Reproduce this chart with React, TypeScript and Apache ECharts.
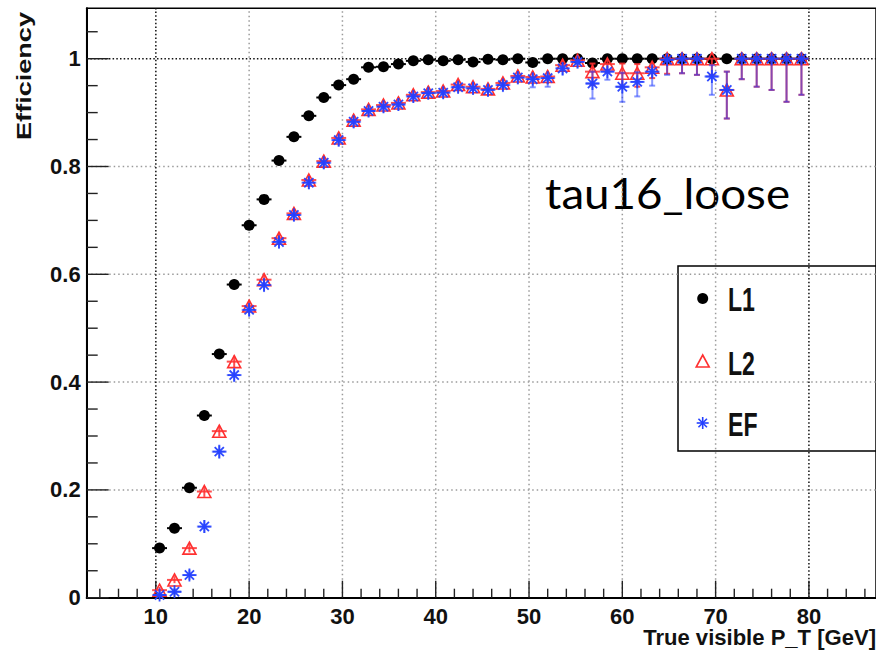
import React, { useEffect, useRef } from 'react';
import * as echarts from 'echarts';

// ---------- data ----------
const BIN_CENTERS = [10.4, 12.0, 13.6, 15.2, 16.8, 18.4, 20.0, 21.6, 23.2, 24.8, 26.4, 28.0, 29.6, 31.2, 32.8, 34.4, 36.0, 37.6, 39.2, 40.8, 42.4, 44.0, 45.6, 47.2, 48.8, 50.4, 52.0, 53.6, 55.2, 56.8, 58.4, 60.0, 61.6, 63.2, 64.8, 66.4, 68.0, 69.6, 71.2, 72.8, 74.4, 76.0, 77.6, 79.2];
const HALF_BIN = 0.8;

const L1 = [0.092, 0.129, 0.204, 0.338, 0.452, 0.581, 0.691, 0.739, 0.811, 0.855,
  0.894, 0.928, 0.951, 0.962, 0.984, 0.985, 0.990, 0.996, 0.998, 0.996,
  0.998, 0.994, 0.999, 0.998, 1.0, 0.993, 1.0, 1.0, 1.0, 0.992,
  1, 1, 1, 1, 1, 1, 1, 1, 1, 1, 1, 1, 1, 1];
const L1_ERR_LO = [0.007, 0.008, 0.009, 0.009, 0.009, 0.009, 0.009, 0.008, 0.008, 0.007,
  0.006, 0.006, 0.005, 0.005, 0.004, 0.004, 0.003, 0.003, 0.002, 0.003,
  0.002, 0.003, 0.002, 0.002, 0.002, 0.004, 0.002, 0.002, 0.002, 0.005,
  0.003, 0.003, 0.004, 0.004, 0.005, 0.005, 0.006, 0.006, 0.008, 0.008, 0.009, 0.009, 0.009, 0.009];
const L1_ERR_HI = [0.008, 0.008, 0.009, 0.009, 0.009, 0.009, 0.009, 0.008, 0.008, 0.007,
  0.006, 0.006, 0.005, 0.005, 0.004, 0.004, 0.003, 0.002, 0.002, 0.002,
  0.002, 0.002, 0.001, 0.002, 0, 0.003, 0, 0, 0, 0.004,
  0, 0, 0, 0, 0, 0, 0, 0, 0, 0, 0, 0, 0, 0];

const L2 = [0.014, 0.033, 0.092, 0.197, 0.309, 0.438, 0.541, 0.590, 0.667, 0.713,
  0.775, 0.810, 0.853, 0.886, 0.906, 0.914, 0.918, 0.933, 0.938, 0.940,
  0.952, 0.948, 0.944, 0.955, 0.968, 0.966, 0.967, 0.988, 0.997, 0.976,
  0.990, 0.973, 0.973, 0.984, 1, 1, 1, 1, 0.942, 1,
  1, 1, 1, 1];
const L2_ERR_LO = [0.004, 0.006, 0.008, 0.010, 0.010, 0.011, 0.011, 0.011, 0.010, 0.010,
  0.010, 0.010, 0.010, 0.010, 0.010, 0.010, 0.010, 0.010, 0.010, 0.010,
  0.010, 0.011, 0.012, 0.012, 0.012, 0.013, 0.014, 0.012, 0.009, 0.025,
  0.015, 0.025, 0.025, 0.020, 0.028, 0.027, 0.030, 0.030, 0.053, 0.038,
  0.052, 0.058, 0.080, 0.067];
const L2_ERR_HI = [0.006, 0.007, 0.009, 0.010, 0.010, 0.011, 0.011, 0.011, 0.010, 0.010,
  0.010, 0.010, 0.010, 0.010, 0.010, 0.010, 0.010, 0.010, 0.010, 0.010,
  0.010, 0.010, 0.010, 0.010, 0.010, 0.011, 0.011, 0.008, 0.003, 0.015,
  0.008, 0.018, 0.017, 0.010, 0, 0, 0, 0, 0.034, 0,
  0, 0, 0, 0];

const EF = [0.005, 0.011, 0.042, 0.132, 0.271, 0.413, 0.534, 0.580, 0.660, 0.710,
  0.770, 0.807, 0.849, 0.883, 0.903, 0.911, 0.915, 0.930, 0.936, 0.937,
  0.947, 0.945, 0.942, 0.951, 0.965, 0.962, 0.964, 0.982, 0.994, 0.954,
  0.976, 0.948, 0.957, 0.976, 0.998, 1, 1, 0.967, 0.942, 1,
  1, 1, 1, 1];
const EF_ERR_LO = [0.004, 0.006, 0.009, 0.012, 0.013, 0.013, 0.013, 0.013, 0.012, 0.012,
  0.012, 0.012, 0.012, 0.012, 0.011, 0.011, 0.011, 0.011, 0.011, 0.011,
  0.011, 0.012, 0.013, 0.013, 0.013, 0.015, 0.016, 0.014, 0.012, 0.028,
  0.015, 0.028, 0.027, 0.026, 0.028, 0.027, 0.030, 0.034, 0.053, 0.038,
  0.052, 0.058, 0.080, 0.067];
const EF_ERR_HI = [0.006, 0.007, 0.010, 0.012, 0.013, 0.013, 0.013, 0.013, 0.012, 0.012,
  0.012, 0.012, 0.011, 0.011, 0.011, 0.011, 0.011, 0.010, 0.010, 0.010,
  0.010, 0.011, 0.011, 0.011, 0.011, 0.013, 0.013, 0.010, 0.005, 0.022,
  0.010, 0.026, 0.018, 0.014, 0.002, 0, 0, 0.021, 0.034, 0,
  0, 0, 0, 0];

const X_LABELS = [10, 20, 30, 40, 50, 60, 70, 80];
const Y_LABELS = [0, 0.2, 0.4, 0.6, 0.8, 1];
const X_MINOR_TICKS = [4, 6, 8, 12, 14, 16, 18, 22, 24, 26, 28, 32, 34, 36, 38, 42, 44, 46, 48, 52, 54, 56, 58, 62, 64, 66, 68, 72, 74, 76, 78, 82, 84, 86];
const Y_MINOR_TICKS = [0.05, 0.1, 0.15, 0.25, 0.3, 0.35, 0.45, 0.5, 0.55, 0.65, 0.7, 0.75, 0.85, 0.9, 0.95, 1.05];
const X_GRID_LIGHT = [20, 30, 40, 50, 60, 70];
const X_GRID_DARK = [10, 80];
const Y_GRID_LIGHT = [0.2, 0.4, 0.6, 0.8];
const Y_GRID_DARK = [1];

const X_MIN = 2.59;
const X_MAX = 87.19;
const Y_MIN = 0;
const Y_MAX = 1.0935;

// ---------- styles ----------
const RED = '#ff3030';
const BLUE = '#2440ff';
const LABEL_FONT = '"Liberation Sans", Arial, Helvetica, sans-serif';

const ASTERISK = (() => {
  const parts: string[] = [];
  for (const deg of [0, 45, 90, 135]) {
    const a = (deg * Math.PI) / 180;
    const c = Math.cos(a);
    const s = Math.sin(a);
    const L = 50;
    const W = 7;
    const pts = [[-L, -W], [L, -W], [L, W], [-L, W]].map(([u, v]) => [50 + u * c - v * s, 50 + u * s + v * c]);
    parts.push('M' + pts.map((p) => p[0].toFixed(2) + ' ' + p[1].toFixed(2)).join(' L') + ' Z');
  }
  return 'path://' + parts.join(' ');
})();

function textWidth(text: string, font: string): number {
  const ctx = document.createElement('canvas').getContext('2d');
  if (!ctx) return 0;
  ctx.font = font;
  return ctx.measureText(text).width;
}

function errorSeries(name: string, ys: number[], lo: number[], hi: number[], color: string, opacity: number, z: number) {
  return {
    type: 'custom',
    name,
    z,
    silent: true,
    data: BIN_CENTERS.map((x, i) => [x, ys[i], ys[i] - lo[i], ys[i] + hi[i]]),
    renderItem: (params: any, api: any) => {
      const x = api.value(0);
      const y = api.value(1);
      const pc = api.coord([x, y]);
      const pl = api.coord([x - HALF_BIN, y]);
      const pr = api.coord([x + HALF_BIN, y]);
      const plo = api.coord([x, api.value(2)]);
      const phi = api.coord([x, api.value(3)]);
      const style = { stroke: color, lineWidth: 2, opacity };
      const cap = 3;
      const children: any[] = [
        { type: 'line', shape: { x1: pl[0], y1: pl[1], x2: pr[0], y2: pr[1] }, style },
      ];
      if (Math.abs(plo[1] - phi[1]) > 0.5) {
        children.push({ type: 'line', shape: { x1: plo[0], y1: plo[1], x2: phi[0], y2: phi[1] }, style });
        if (plo[1] - pc[1] > 8) {
          children.push({ type: 'line', shape: { x1: plo[0] - cap, y1: plo[1], x2: plo[0] + cap, y2: plo[1] }, style });
        }
        if (pc[1] - phi[1] > 8) {
          children.push({ type: 'line', shape: { x1: phi[0] - cap, y1: phi[1], x2: phi[0] + cap, y2: phi[1] }, style });
        }
      }
      return { type: 'group', children };
    },
  };
}

function gridSeries(values: number[], vertical: boolean, color: string, dash: number[], z: number) {
  return {
    type: 'custom',
    z,
    silent: true,
    data: values.map((v) => [v, 0]),
    renderItem: (params: any, api: any) => {
      const v = api.value(0);
      const p1 = vertical ? api.coord([v, Y_MIN]) : api.coord([X_MIN, v]);
      const p2 = vertical ? api.coord([v, Y_MAX]) : api.coord([X_MAX, v]);
      return {
        type: 'line',
        shape: { x1: p1[0], y1: p1[1], x2: p2[0], y2: p2[1] },
        style: { stroke: color, lineWidth: 1.5, lineDash: dash },
      };
    },
  };
}

function tickSeries(values: number[], vertical: boolean, len: number, z: number) {
  return {
    type: 'custom',
    z,
    silent: true,
    data: values.map((v) => [v, 0]),
    renderItem: (params: any, api: any) => {
      const v = api.value(0);
      const p = vertical ? api.coord([v, Y_MIN]) : api.coord([X_MIN, v]);
      const shape = vertical
        ? { x1: p[0], y1: p[1], x2: p[0], y2: p[1] - len }
        : { x1: p[0], y1: p[1], x2: p[0] + len, y2: p[1] };
      return { type: 'line', shape, style: { stroke: '#222', lineWidth: 1.4 } };
    },
  };
}

export default function App() {
  const ref = useRef<HTMLDivElement>(null);

  useEffect(() => {
    if (!ref.current) return;
    const chart = echarts.init(ref.current, undefined, { renderer: 'svg' });

    const effFont = `bold 21px ${LABEL_FONT}`;
    const effScale = 128 / (textWidth('Efficiency', effFont) || 99);
    const legFont = `bold 34px ${LABEL_FONT}`;
    const legScale = 27 / (textWidth('L1', legFont) || 40);
    const tauFont = '42px Lato, "Open Sans", sans-serif';
    const tauScale = 245 / (textWidth('tau16_loose', tauFont) || 224);
    const xtFont = `bold 22px ${LABEL_FONT}`;
    const xtScale = 233 / (textWidth('True visible P_T [GeV]', xtFont) || 233);

    const legendText = (t: string, y: number) => ({
      type: 'text',
      x: 728,
      y,
      scaleX: legScale,
      style: { text: t, fontSize: 34, fontWeight: 'bold', fontFamily: LABEL_FONT, fill: '#111', align: 'left', verticalAlign: 'middle' },
    });

    const astLines = (cx: number, cy: number, r: number) =>
      [0, 45, 90, 135].map((deg) => {
        const a = (deg * Math.PI) / 180;
        return {
          type: 'line',
          shape: { x1: cx - r * Math.cos(a), y1: cy - r * Math.sin(a), x2: cx + r * Math.cos(a), y2: cy + r * Math.sin(a) },
          style: { stroke: BLUE, lineWidth: 1.6 },
        };
      });

    const option: any = {
      animation: false,
      backgroundColor: '#ffffff',
      grid: {
        left: 86.7,
        right: -2,
        top: 8.3,
        bottom: 65.3,
        show: true,
        borderColor: '#000',
        borderWidth: 1.5,
        backgroundColor: 'transparent',
      },
      xAxis: {
        type: 'value',
        min: X_MIN,
        max: X_MAX,
        axisLine: { show: true, lineStyle: { color: '#000', width: 2 } },
        axisTick: { show: false },
        splitLine: { show: false },
        axisLabel: {
          customValues: X_LABELS,
          fontSize: 22,
          fontWeight: 'bold',
          fontFamily: LABEL_FONT,
          color: '#111',
          margin: 8,
          formatter: (v: number) => String(Math.round(v)),
        },
      },
      yAxis: {
        type: 'value',
        min: Y_MIN,
        max: Y_MAX,
        axisLine: { show: true, lineStyle: { color: '#000', width: 2 } },
        axisTick: { show: false },
        splitLine: { show: false },
        axisLabel: {
          customValues: Y_LABELS,
          fontSize: 22,
          fontWeight: 'bold',
          fontFamily: LABEL_FONT,
          color: '#111',
          margin: 6,
          formatter: (v: number) => String(Number(v.toFixed(1))),
        },
      },
      series: [
        gridSeries(X_GRID_LIGHT, true, '#9a9a9a', [1.5, 3], 0),
        gridSeries(Y_GRID_LIGHT, false, '#9a9a9a', [1.5, 3], 0),
        gridSeries(X_GRID_DARK, true, '#111', [1.5, 2.2], 0),
        gridSeries(Y_GRID_DARK, false, '#111', [1.5, 2.2], 0),
        tickSeries(X_MINOR_TICKS, true, 9, 1),
        tickSeries(X_LABELS, true, 17, 1),
        tickSeries(Y_MINOR_TICKS, false, 11, 1),
        tickSeries(Y_LABELS, false, 22, 1),
        errorSeries('L1 err', L1, L1_ERR_LO, L1_ERR_HI, '#000', 1, 2),
        {
          type: 'scatter',
          name: 'L1',
          z: 3,
          silent: true,
          symbol: 'circle',
          symbolSize: 11,
          itemStyle: { color: '#000', opacity: 1 },
          data: BIN_CENTERS.map((x, i) => [x, L1[i]]),
        },
        errorSeries('L2 err', L2, L2_ERR_LO, L2_ERR_HI, RED, 0.85, 4),
        {
          type: 'scatter',
          name: 'L2',
          z: 5,
          silent: true,
          symbol: 'triangle',
          symbolSize: [13, 12],
          itemStyle: { color: 'rgba(255,255,255,0)', borderColor: RED, borderWidth: 1.6, opacity: 1 },
          data: BIN_CENTERS.map((x, i) => [x, L2[i]]),
        },
        errorSeries('EF err', EF, EF_ERR_LO, EF_ERR_HI, BLUE, 0.55, 6),
        {
          type: 'scatter',
          name: 'EF',
          z: 7,
          silent: true,
          symbol: ASTERISK,
          symbolSize: 13,
          itemStyle: { color: BLUE, opacity: 0.95 },
          data: BIN_CENTERS.map((x, i) => [x, EF[i]]),
        },
      ],
      graphic: [
        {
          type: 'text',
          x: 24,
          y: 76,
          rotation: Math.PI / 2,
          scaleX: effScale,
          style: { text: 'Efficiency', fontSize: 21, fontWeight: 'bold', fontFamily: LABEL_FONT, fill: '#111', align: 'center', verticalAlign: 'middle' },
        },
        {
          type: 'text',
          x: 876,
          y: 638,
          scaleX: xtScale,
          style: { text: 'True visible P_T [GeV]', fontSize: 22, fontWeight: 'bold', fontFamily: LABEL_FONT, fill: '#111', align: 'right', verticalAlign: 'middle' },
        },
        {
          type: 'text',
          x: 545,
          y: 193,
          scaleX: tauScale,
          style: { text: 'tau16_loose', fontSize: 42, fontFamily: 'Lato, "Open Sans", sans-serif', fill: '#000', align: 'left', verticalAlign: 'middle' },
        },
        {
          type: 'rect',
          shape: { x: 678, y: 266, width: 220, height: 185 },
          style: { fill: 'none', stroke: '#000', lineWidth: 1.5 },
        },
        { type: 'circle', shape: { cx: 702.7, cy: 298.5, r: 5.5 }, style: { fill: '#000' } },
        {
          type: 'polygon',
          shape: { points: [[702.7, 355], [709.2, 367], [696.2, 367]] },
          style: { fill: 'none', stroke: RED, lineWidth: 1.6 },
        },
        { type: 'group', children: astLines(702.7, 423, 6) },
        legendText('L1', 299.5),
        legendText('L2', 363.5),
        legendText('EF', 424.5),
      ],
    };

    chart.setOption(option);
    return () => chart.dispose();
  }, []);

  return (
    <div
      ref={ref}
      style={{ position: 'absolute', left: 0, top: 0, width: 876, height: 663, background: '#fff' }}
    />
  );
}
